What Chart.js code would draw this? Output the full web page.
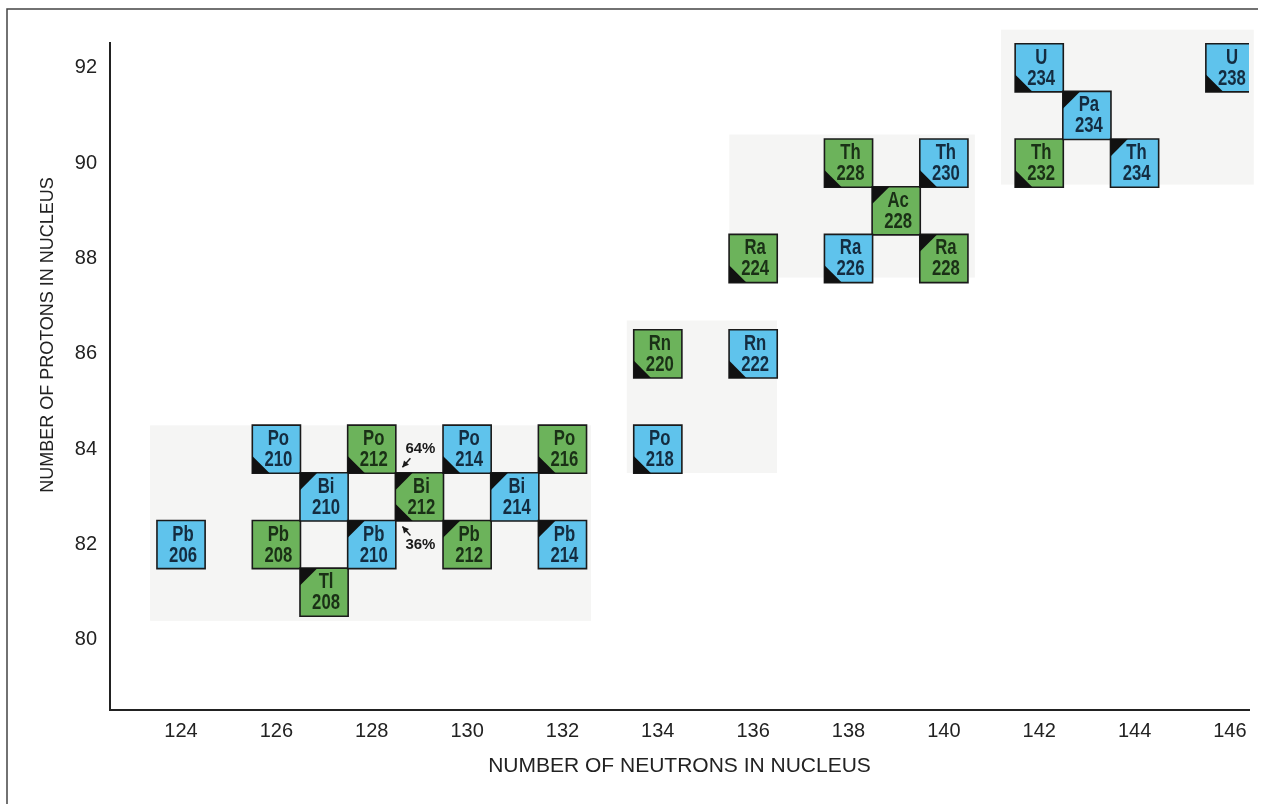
<!DOCTYPE html>
<html>
<head>
<meta charset="utf-8">
<title>Decay series chart</title>
<script src="https://cdn.jsdelivr.net/npm/chart.js@4.4.1/dist/chart.umd.min.js"></script>
<style>
  html, body { margin: 0; padding: 0; background: #fff; }
  #wrap { width: 1271px; height: 804px; }
</style>
</head>
<body>
<div id="wrap"><canvas id="decay-chart" width="1271" height="804"></canvas></div>
<script>
const neutronTicks = [124, 126, 128, 130, 132, 134, 136, 138, 140, 142, 144, 146];
const protonTicks = [80, 82, 84, 86, 88, 90, 92];

// one entry per nuclide
const symbols     = ['Pb','Po','Pb','Bi','Tl','Po','Pb','Bi','Po','Pb','Bi','Po','Pb','Po','Rn','Rn','Ra','Ra','Th','Ac','Ra','Th','Th','U','Pa','Th','U'];
const massNumbers = [206, 210, 208, 210, 208, 212, 210, 212, 214, 212, 214, 216, 214, 218, 220, 222, 224, 226, 228, 228, 228, 230, 232, 234, 234, 234, 238];
const neutrons    = [124, 126, 126, 127, 127, 128, 128, 129, 130, 130, 131, 132, 132, 134, 134, 136, 136, 138, 138, 139, 140, 140, 142, 142, 143, 144, 146];
const protons     = [82, 84, 82, 83, 81, 84, 82, 83, 84, 82, 83, 84, 82, 84, 86, 86, 88, 88, 90, 89, 88, 90, 90, 92, 91, 90, 92];
// 'U' = uranium-238 series, 'Th' = thorium-232 series
const family      = ['U','U','Th','U','Th','Th','U','Th','U','Th','U','Th','U','U','Th','U','Th','U','Th','Th','Th','U','Th','U','U','U','U'];
// how each nuclide was reached: alpha (corner bottom-left), beta (corner top-left)
const decayMode   = ['stable','alpha','stable','beta','beta','alpha','beta','both','alpha','beta','beta','alpha','beta','alpha','alpha','alpha','alpha','alpha','alpha','beta','beta','alpha','alpha','alpha','beta','beta','alpha'];

// Bi 212 branching
const branchLabels   = ['64%', '36%'];
const branchNeutrons = [129, 129];
const branchProtons  = [84, 82];

// light shaded panels behind each group (neutron range, proton range)
const shadeNeutrons = [[123.35, 132.6], [133.35, 136.5], [135.5, 140.65], [141.2, 146.5]];
const shadeProtons  = [[80.4, 84.5], [83.5, 86.7], [87.6, 90.6], [89.55, 92.8]];

const familyColors = { U: '#5fc3ec', Th: '#6cb35b' };
const familyInk = { U: '#142c40', Th: '#1a3016' };
const familyNames = { U: 'Uranium-238 series', Th: 'Thorium-232 series' };

const makeDataset = (fam) => ({
  label: familyNames[fam],
  data: symbols.map((s, i) => ({ x: neutrons[i], y: protons[i], i: i })).filter(p => family[p.i] === fam),
  backgroundColor: familyColors[fam],
  borderColor: '#1a1a1a',
  borderWidth: 1.6,
  pointStyle: 'rect',
  radius: ctx => {
    const x = ctx.chart.scales.x;
    return (x.getPixelForValue(1) - x.getPixelForValue(0)) * Math.SQRT1_2 * 1.01;
  }
});

const shadePanels = {
  id: 'shadePanels',
  beforeDatasetsDraw(chart) {
    const { ctx, scales: { x, y } } = chart;
    ctx.save();
    ctx.fillStyle = '#f5f5f4';
    shadeNeutrons.forEach((nr, k) => {
      const x0 = x.getPixelForValue(nr[0]), x1 = x.getPixelForValue(nr[1]);
      const y0 = y.getPixelForValue(shadeProtons[k][1]), y1 = y.getPixelForValue(shadeProtons[k][0]);
      ctx.fillRect(x0, y0, x1 - x0, y1 - y0);
    });
    ctx.restore();
  }
};

const drawNarrow = (ctx, text, x, y) => {
  ctx.save();
  ctx.translate(x, y);
  ctx.scale(0.76, 1);
  ctx.fillText(text, 0, 0);
  ctx.restore();
};

const nuclideMarks = {
  id: 'nuclideMarks',
  afterDatasetsDraw(chart) {
    const { ctx, scales: { x, y } } = chart;
    ctx.save();
    chart.data.datasets.forEach((ds, d) => {
      chart.getDatasetMeta(d).data.forEach((pt, j) => {
        const i = ds.data[j].i;
        const h = pt.options.radius * Math.SQRT1_2;
        const left = pt.x - h, top = pt.y - h, bottom = pt.y + h;
        const t = h * 0.72;
        ctx.fillStyle = '#111';
        if (decayMode[i] === 'alpha' || decayMode[i] === 'both') {
          ctx.beginPath();
          ctx.moveTo(left, bottom);
          ctx.lineTo(left, bottom - t);
          ctx.lineTo(left + t, bottom);
          ctx.closePath();
          ctx.fill();
        }
        if (decayMode[i] === 'beta' || decayMode[i] === 'both') {
          ctx.beginPath();
          ctx.moveTo(left, top);
          ctx.lineTo(left + t, top);
          ctx.lineTo(left, top + t);
          ctx.closePath();
          ctx.fill();
        }
        ctx.fillStyle = familyInk[family[i]];
        ctx.font = 'bold 22px "Liberation Sans", Arial, sans-serif';
        ctx.textAlign = 'center';
        ctx.textBaseline = 'alphabetic';
        drawNarrow(ctx, symbols[i], pt.x + 2, pt.y - 4);
        drawNarrow(ctx, String(massNumbers[i]), pt.x + 2, pt.y + 17);
      });
    });

    // branching ratios of Bi 212
    ctx.font = 'bold 15px "Liberation Sans", Arial, sans-serif';
    ctx.textAlign = 'center';
    ctx.textBaseline = 'middle';
    ctx.fillStyle = '#1a1a1a';
    ctx.strokeStyle = '#1a1a1a';
    ctx.lineWidth = 1.5;
    branchLabels.forEach((lab, k) => {
      const px = x.getPixelForValue(branchNeutrons[k]);
      const py = y.getPixelForValue(branchProtons[k]);
      const dir = branchProtons[k] > 83 ? 1 : -1;
      ctx.fillText(lab, px + 1, py);
      const tx = px - 9, ty = py + dir * 9;
      const hx = px - 17, hy = py + dir * 18;
      ctx.beginPath();
      ctx.moveTo(tx, ty);
      ctx.lineTo(hx, hy);
      ctx.stroke();
      const ang = Math.atan2(hy - ty, hx - tx);
      ctx.beginPath();
      ctx.moveTo(hx, hy);
      ctx.lineTo(hx - 7 * Math.cos(ang - 0.5), hy - 7 * Math.sin(ang - 0.5));
      ctx.lineTo(hx - 7 * Math.cos(ang + 0.5), hy - 7 * Math.sin(ang + 0.5));
      ctx.closePath();
      ctx.fill();
    });
    ctx.restore();
  }
};

const pageFrame = {
  id: 'pageFrame',
  afterDraw(chart) {
    const { ctx } = chart;
    ctx.save();
    ctx.strokeStyle = '#444';
    ctx.lineWidth = 1.5;
    ctx.beginPath();
    ctx.moveTo(7, 804);
    ctx.lineTo(7, 9);
    ctx.lineTo(1258, 9);
    ctx.stroke();

    // y axis title
    ctx.fillStyle = '#222';
    ctx.font = '18px "Liberation Sans", Arial, sans-serif';
    ctx.textAlign = 'center';
    ctx.textBaseline = 'middle';
    ctx.translate(48, 335);
    ctx.rotate(-Math.PI / 2);
    ctx.fillText('NUMBER OF PROTONS IN NUCLEUS', 0, 0);
    ctx.restore();
  }
};

new Chart(document.getElementById('decay-chart'), {
  type: 'scatter',
  data: { datasets: [makeDataset('U'), makeDataset('Th')] },
  plugins: [shadePanels, nuclideMarks, pageFrame],
  options: {
    responsive: false,
    animation: false,
    events: [],
    layout: { padding: { left: 0, top: 43, right: 22, bottom: 0 } },
    plugins: {
      legend: { display: false },
      tooltip: { enabled: false }
    },
    scales: {
      x: {
        type: 'linear',
        min: 122.51,
        max: 146.4,
        afterBuildTicks: scale => { scale.ticks = neutronTicks.map(v => ({ value: v })); },
        afterFit: scale => { scale.height = 94; },
        grid: { display: false, drawTicks: false },
        border: { display: true, color: '#222', width: 2 },
        ticks: {
          padding: 9,
          color: '#222',
          font: { family: '"Liberation Sans", Arial, sans-serif', size: 20 },
          callback: v => String(v)
        },
        title: {
          display: true,
          text: 'NUMBER OF NEUTRONS IN NUCLEUS',
          color: '#222',
          font: { family: '"Liberation Sans", Arial, sans-serif', size: 21 },
          padding: { top: 0, bottom: 25 }
        }
      },
      y: {
        type: 'linear',
        min: 78.53,
        max: 92.52,
        afterBuildTicks: scale => { scale.ticks = protonTicks.map(v => ({ value: v })); },
        afterFit: scale => { scale.width = 110; },
        grid: { display: false, drawTicks: false },
        border: { display: true, color: '#222', width: 2 },
        ticks: {
          padding: 13,
          color: '#222',
          font: { family: '"Liberation Sans", Arial, sans-serif', size: 20 },
          callback: v => String(v)
        }
      }
    }
  }
});
</script>
</body>
</html>
